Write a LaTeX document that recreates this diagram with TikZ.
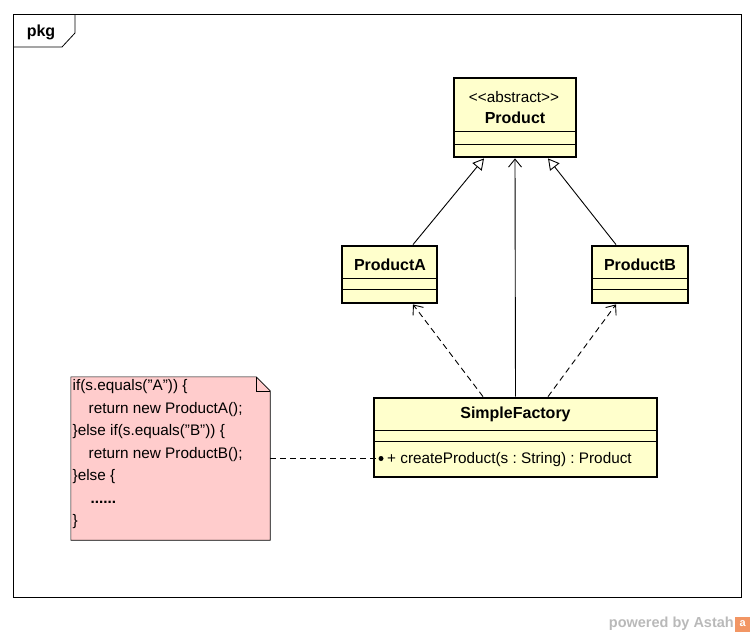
\documentclass[tikz,border=0pt]{standalone}
\usepackage{fontspec}
\setmainfont{Liberation Sans}
\usetikzlibrary{arrows.meta,positioning}
\definecolor{classfill}{RGB}{255,255,204}
\definecolor{notefill}{RGB}{255,204,204}
\definecolor{astahgray}{RGB}{185,185,185}
\definecolor{astahorange}{RGB}{242,150,100}
\newcommand{\qt}{\char34}
\frenchspacing

\begin{document}
\begin{tikzpicture}
[ x=1pt, y=-1pt,
		umlclass/.style={rectangle,draw,line width=2.8pt,fill=classfill,inner sep=0pt},
		classname/.style={font=\fontsize{16}{18}\selectfont\bfseries,inner sep=0pt},
		member/.style={font=\fontsize{15.3}{17}\selectfont,inner sep=0pt},
		compline/.style={line width=0.9pt},
		generalize/.style={-{Triangle[open,length=11pt,width=12pt]},line width=0.9pt},
		navigate/.style={-{Straight Barb[length=8pt,width=13pt]},line width=0.9pt},
		depend/.style={-{Straight Barb[length=8pt,width=13pt]},dashed,dash pattern=on 6pt off 4pt,line width=0.9pt},
		notelink/.style={dashed,dash pattern=on 6pt off 4pt,line width=0.9pt}]

	\useasboundingbox (0,0) rectangle (754,637);

	% package frame
	\draw[line width=0.8pt] (13,14) rectangle (741,597);
	\draw[line width=0.8pt] (13,47) -- (62,47) -- (75,33) -- (75,14);
	\node[classname] (pkg) at (41,32) {pkg};

	% classes
	\node[umlclass,minimum width=122pt,minimum height=79pt] (product) at (515,117.5) {};
	\draw[compline] (454,131) -- (576,131);
	\draw[compline] (454,144) -- (576,144);
	\node[member] (stereo) at (514,97) {<{}<abstract>{}>};
	\node[classname] (productname) at (515,118) {Product};

	\node[umlclass,minimum width=95pt,minimum height=57pt] (producta) at (389.5,274.5) {};
	\draw[compline] (342,278) -- (437,278);
	\draw[compline] (342,289) -- (437,289);
	\node[classname] (productaname) at (390,265) {ProductA};

	\node[umlclass,minimum width=96pt,minimum height=57pt] (productb) at (640,274.5) {};
	\draw[compline] (592,278) -- (688,278);
	\draw[compline] (592,289) -- (688,289);
	\node[classname] (productbname) at (640,265) {ProductB};

	\node[umlclass,minimum width=283pt,minimum height=79pt] (factory) at (515.5,437.5) {};
	\draw[compline] (374,430) -- (657,430);
	\draw[compline] (374,441) -- (657,441);
	\node[classname] (factoryname) at (515.5,414) {SimpleFactory};
	\node[member,anchor=west] (create) at (387,460) {+ createProduct(s : String) : Product};
	\node[circle,fill,inner sep=0pt,minimum size=5pt] (dot) at (381,458.5) {};

	% note
	\node[minimum width=199pt,minimum height=163pt,inner sep=0pt] (note) at (170.5,458.5) {};
	\draw[fill=notefill,line width=0.6pt] (note.north west) -- ([xshift=-14pt]note.north east)
		-- ([yshift=-14pt]note.north east) -- (note.south east) -- (note.south west) -- cycle;
	\draw[line width=0.6pt] ([xshift=-14pt]note.north east) -- ([xshift=-14pt,yshift=-14pt]note.north east)
		-- ([yshift=-14pt]note.north east);
	\node[member,anchor=north west,align=left,inner sep=1.5pt,
		font=\fontsize{15.3}{22.5}\selectfont] (notetext) at (71,378)
		{if(s.equals(\qt A\qt)) \{\\
		\hspace*{16pt}return new ProductA();\\
		\}else if(s.equals(\qt B\qt)) \{\\
		\hspace*{16pt}return new ProductB();\\
		\}else \{\\
		\hspace*{18pt}\textbf{......}\\
		\}};

	% connectors
	\draw[generalize] ([xshift=23.5pt]producta.north) -- ([xshift=-31pt]product.south);
	\draw[generalize] ([xshift=-24pt]productb.north) -- ([xshift=33pt]product.south);
	\draw[navigate] (factory.north) -- (product.south);
	\draw[depend] ([xshift=-32.5pt]factory.north) -- ([xshift=23.5pt]producta.south);
	\draw[depend] ([xshift=32.5pt]factory.north) -- ([xshift=-24pt]productb.south);
	\draw[notelink] (note.east) -- (dot);

	% footer
	\node[font=\fontsize{14.5}{16}\selectfont\bfseries,text=astahgray,anchor=east,inner sep=0pt] (powered) at (734,624) {powered by Astah};
	\node[fill=astahorange,minimum size=15pt,inner sep=0pt,right=1pt of powered,
		font=\fontsize{11}{12}\selectfont\bfseries,text=white] (logo) {a};
\end{tikzpicture}
\end{document}
